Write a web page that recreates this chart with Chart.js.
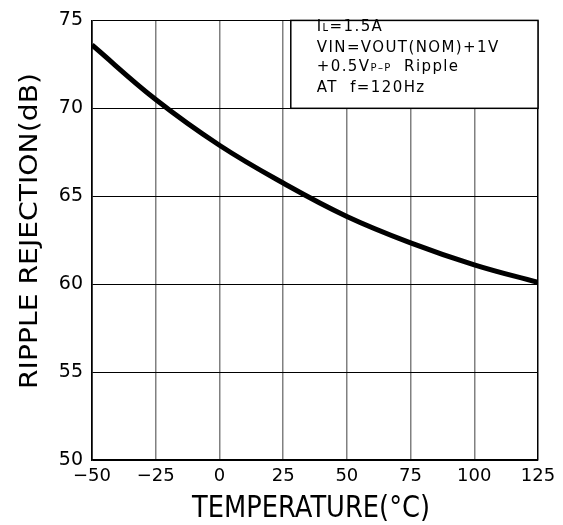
<!DOCTYPE html>
<html>
<head>
<meta charset="utf-8">
<script src="https://cdn.jsdelivr.net/npm/chart.js@4"></script>
<style>
  body { margin: 0; background: #fff; }
  canvas { display: block; }
</style>
</head>
<body>
<canvas id="MyChart" width="563" height="525"></canvas>
<script>
// values
const temperature = [-50, -25, 0, 25, 50, 75, 100, 125]
const rejection = [73.6, 70.5, 67.9, 65.75, 63.85, 62.35, 61.1, 60.1]

const xTicks = [-50, -25, 0, 25, 50, 75, 100, 125]
const yTicks = [50, 55, 60, 65, 70, 75]

const xTitle = 'TEMPERATURE(°C)'
const yTitle = 'RIPPLE REJECTION(dB)'

// condition box text, each line as [text, font size] pieces
const noteLines = [
    [['I', 15], ['L', 10], ['=1.5A', 15]],
    [['VIN=VOUT(NOM)+1V', 15]],
    [['+0.5V', 15], ['P\u2013P', 10], ['  Ripple', 15]],
    [['AT  f=120Hz', 15]],
]

const FONT = '"DejaVu Sans", "Liberation Sans", sans-serif'

function minusSign(v){
    return String(v).replace('-', '\u2212')
}

// draw text squeezed/stretched to a given width
function fitText(ctx, text, width){
    const w = ctx.measureText(text).width
    ctx.save()
    ctx.scale(width / w, 1)
    ctx.fillText(text, 0, 0)
    ctx.restore()
}

const extras = {
    id: 'extras',
    beforeDatasetsDraw(chart){
        const ctx = chart.ctx
        const x = chart.scales.x, y = chart.scales.y
        const left = x.getPixelForValue(28)
        const right = chart.chartArea.right
        const top = chart.chartArea.top
        const bottom = y.getPixelForValue(70)
        ctx.save()
        ctx.fillStyle = '#fff'
        ctx.fillRect(left, top, right - left, bottom - top)
        ctx.strokeStyle = '#000'
        ctx.lineWidth = 1.5
        ctx.strokeRect(left, top, right - left, bottom - top)
        ctx.fillStyle = '#000'
        ctx.textBaseline = 'alphabetic'
        ctx.textAlign = 'left'
        ctx.letterSpacing = '1.4px'
        const baselines = [30.7, 51.7, 70.7, 91.7]
        noteLines.forEach((line, i) => {
            let px = left + 26
            line.forEach(([t, size]) => {
                ctx.font = size + 'px ' + FONT
                ctx.fillText(t, px, baselines[i])
                px += ctx.measureText(t).width
            })
        })
        ctx.restore()
    },
    afterDraw(chart){
        const ctx = chart.ctx
        ctx.save()
        ctx.fillStyle = '#000'
        ctx.textAlign = 'left'
        ctx.textBaseline = 'alphabetic'

        ctx.font = '30px ' + FONT
        ctx.save()
        ctx.translate(192, 516.5)
        fitText(ctx, xTitle, 238)
        ctx.restore()

        ctx.font = '25px ' + FONT
        ctx.save()
        ctx.translate(37, 389)
        ctx.rotate(-Math.PI / 2)
        fitText(ctx, yTitle, 316)
        ctx.restore()
        ctx.restore()
    }
}

const ctx = document.getElementById('MyChart').getContext('2d')

new Chart(ctx, {
    type: 'line',
    data: {
        datasets: [{
            data: temperature.map((t, i) => ({x: t, y: rejection[i]})),
            borderColor: '#000',
            borderWidth: 5,
            pointRadius: 0,
            tension: 0.4,
            fill: false,
        }]
    },
    options: {
        responsive: false,
        animation: false,
        layout: { padding: { top: 14, right: 25, left: 0, bottom: 0 } },
        plugins: { legend: { display: false }, tooltip: { enabled: false } },
        scales: {
            x: {
                type: 'linear',
                min: -50,
                max: 125,
                afterBuildTicks: s => { s.ticks = xTicks.map(v => ({value: v})) },
                afterFit: s => { s.height = 65 },
                grid: {
                    drawTicks: false,
                    color: c => (c.tick && (c.tick.value === -50 || c.tick.value === 125)) ? '#000' : '#808080',
                    lineWidth: 1.5,
                },
                border: { color: '#000', width: 1.5 },
                ticks: {
                    padding: 6,
                    color: '#000',
                    maxRotation: 0,
                    autoSkip: false,
                    font: { family: FONT, size: 18 },
                    callback: v => minusSign(v),
                },
            },
            y: {
                min: 50,
                max: 75,
                afterBuildTicks: s => { s.ticks = yTicks.map(v => ({value: v})) },
                afterFit: s => { s.width = 92 },
                grid: {
                    drawTicks: false,
                    color: '#000',
                    lineWidth: 1,
                },
                border: { color: '#000', width: 1.5 },
                ticks: {
                    padding: 9,
                    color: '#000',
                    font: { family: FONT, size: 19 },
                    callback: v => minusSign(v),
                },
            }
        }
    },
    plugins: [extras]
})
</script>
</body>
</html>
